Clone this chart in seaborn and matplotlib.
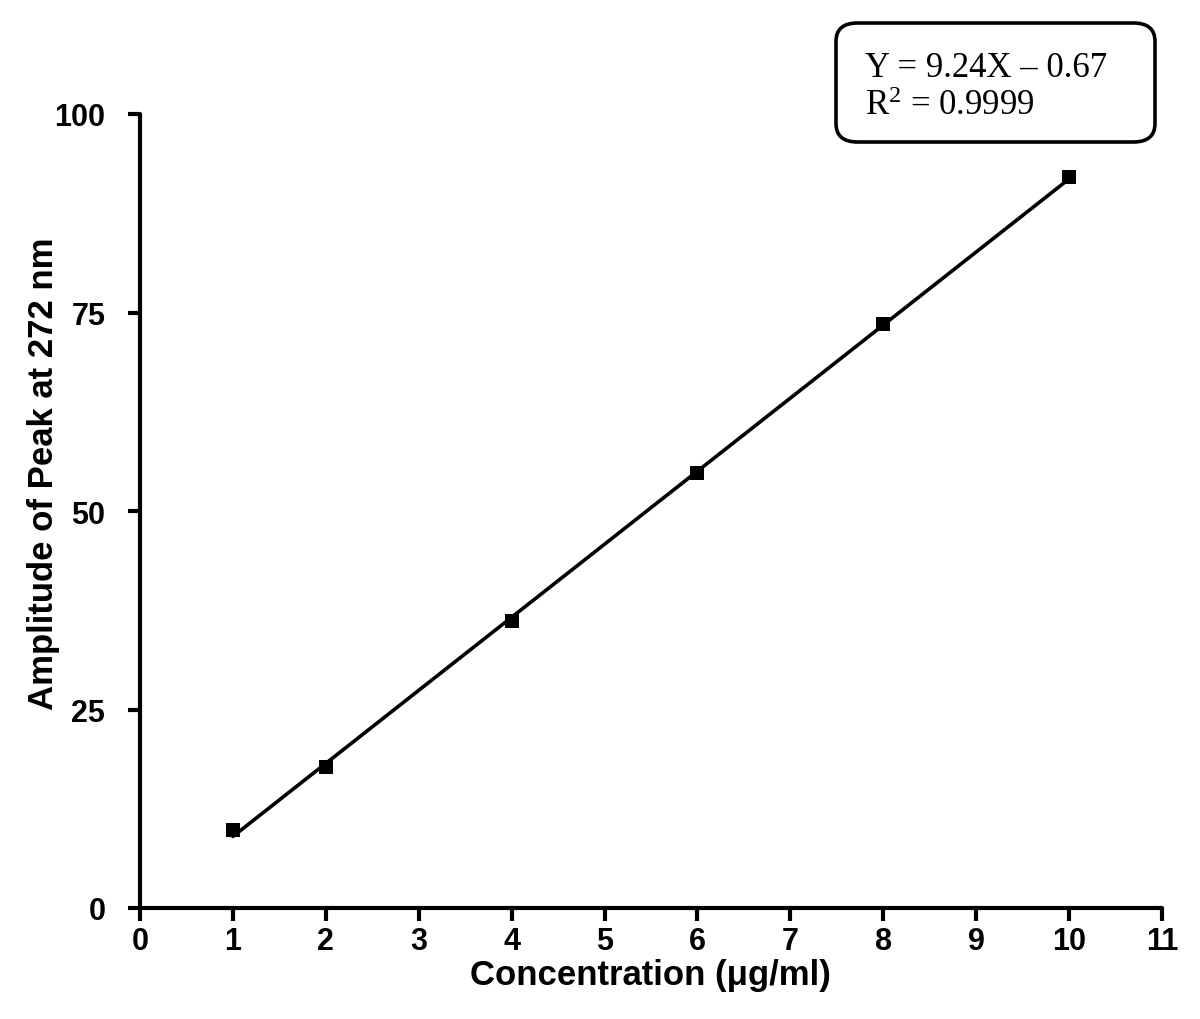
import matplotlib
matplotlib.use("Agg")
import matplotlib.pyplot as plt
from matplotlib.patches import FancyBboxPatch
import seaborn as sns
import pandas as pd

# Data
concentration = [1, 2, 4, 6, 8, 10]
amplitude = [9.8, 17.8, 36.1, 54.8, 73.5, 92.1]
x_ticks = [0, 1, 2, 3, 4, 5, 6, 7, 8, 9, 10, 11]
y_ticks = [0, 25, 50, 75, 100]
eq_line1 = "Y = 9.24X \u2013 0.67"
eq_line2 = r"R$^{2}$ = 0.9999"
x_label = "Concentration (\u03bcg/ml)"
y_label = "Amplitude of Peak at 272 nm"

df = pd.DataFrame({"conc": concentration, "amp": amplitude})

sns.set_theme(style="ticks")
plt.rcParams["font.family"] = ["Liberation Sans", "DejaVu Sans"]
plt.rcParams["mathtext.fontset"] = "custom"
plt.rcParams["mathtext.rm"] = "Liberation Serif"
plt.rcParams["mathtext.it"] = "Liberation Serif"
for k in ["text.color", "axes.labelcolor", "xtick.color", "ytick.color", "axes.edgecolor"]:
    plt.rcParams[k] = "black"

fig = plt.figure(figsize=(12, 10.2), dpi=100)
ax = fig.add_axes([140/1200, 1 - 909/1020, (1162-140)/1200, (909-115)/1020])

sns.regplot(data=df, x="conc", y="amp", ax=ax, ci=None, color="black",
            marker="s", scatter_kws={"s": 110, "zorder": 3, "linewidths": 0, "alpha": 1},
            line_kws={"linewidth": 2.6, "color": "black"})

ax.set_xlim(0, 11)
ax.set_ylim(0, 100)
ax.set_xticks(x_ticks)
ax.set_yticks(y_ticks)
ax.set_xticklabels([str(t) for t in x_ticks], fontsize=22, fontweight="bold")
ax.set_yticklabels([str(t) for t in y_ticks], fontsize=22, fontweight="bold")
ax.tick_params(axis="both", direction="out", length=9, width=3, color="black")
ax.tick_params(axis="x", pad=4)
ax.tick_params(axis="y", pad=16)
for side in ["left", "bottom"]:
    ax.spines[side].set_linewidth(3)
    ax.spines[side].set_color("black")
ax.spines["top"].set_visible(False)
ax.spines["right"].set_visible(False)
for sp in ax.spines.values():
    sp.set_capstyle("round")

ax.set_xlabel("")
ax.set_ylabel("")
fig.text(650/1200, 1 - 985/1020, x_label, fontsize=25, fontweight="bold",
         ha="center", va="baseline")
fig.text(44/1200, 1 - 474/1020, y_label, fontsize=25, fontweight="bold",
         ha="center", va="center", rotation=90)

# Equation box
box = FancyBboxPatch((836/1200, 1 - 143/1020), 319/1200, 119/1020,
                     boxstyle="round,pad=0,rounding_size=0.018",
                     transform=fig.transFigure, facecolor="white",
                     edgecolor="black", linewidth=2.6, zorder=5)
fig.patches.append(box)
fig.text(865/1200, 1 - 77/1020, eq_line1, fontsize=25, family="Liberation Serif",
         va="baseline", ha="left", zorder=6)
fig.text(865/1200, 1 - 115/1020, eq_line2, fontsize=25, family="Liberation Serif",
         va="baseline", ha="left", zorder=6)

fig.savefig("out.png", dpi=100, facecolor="white")
